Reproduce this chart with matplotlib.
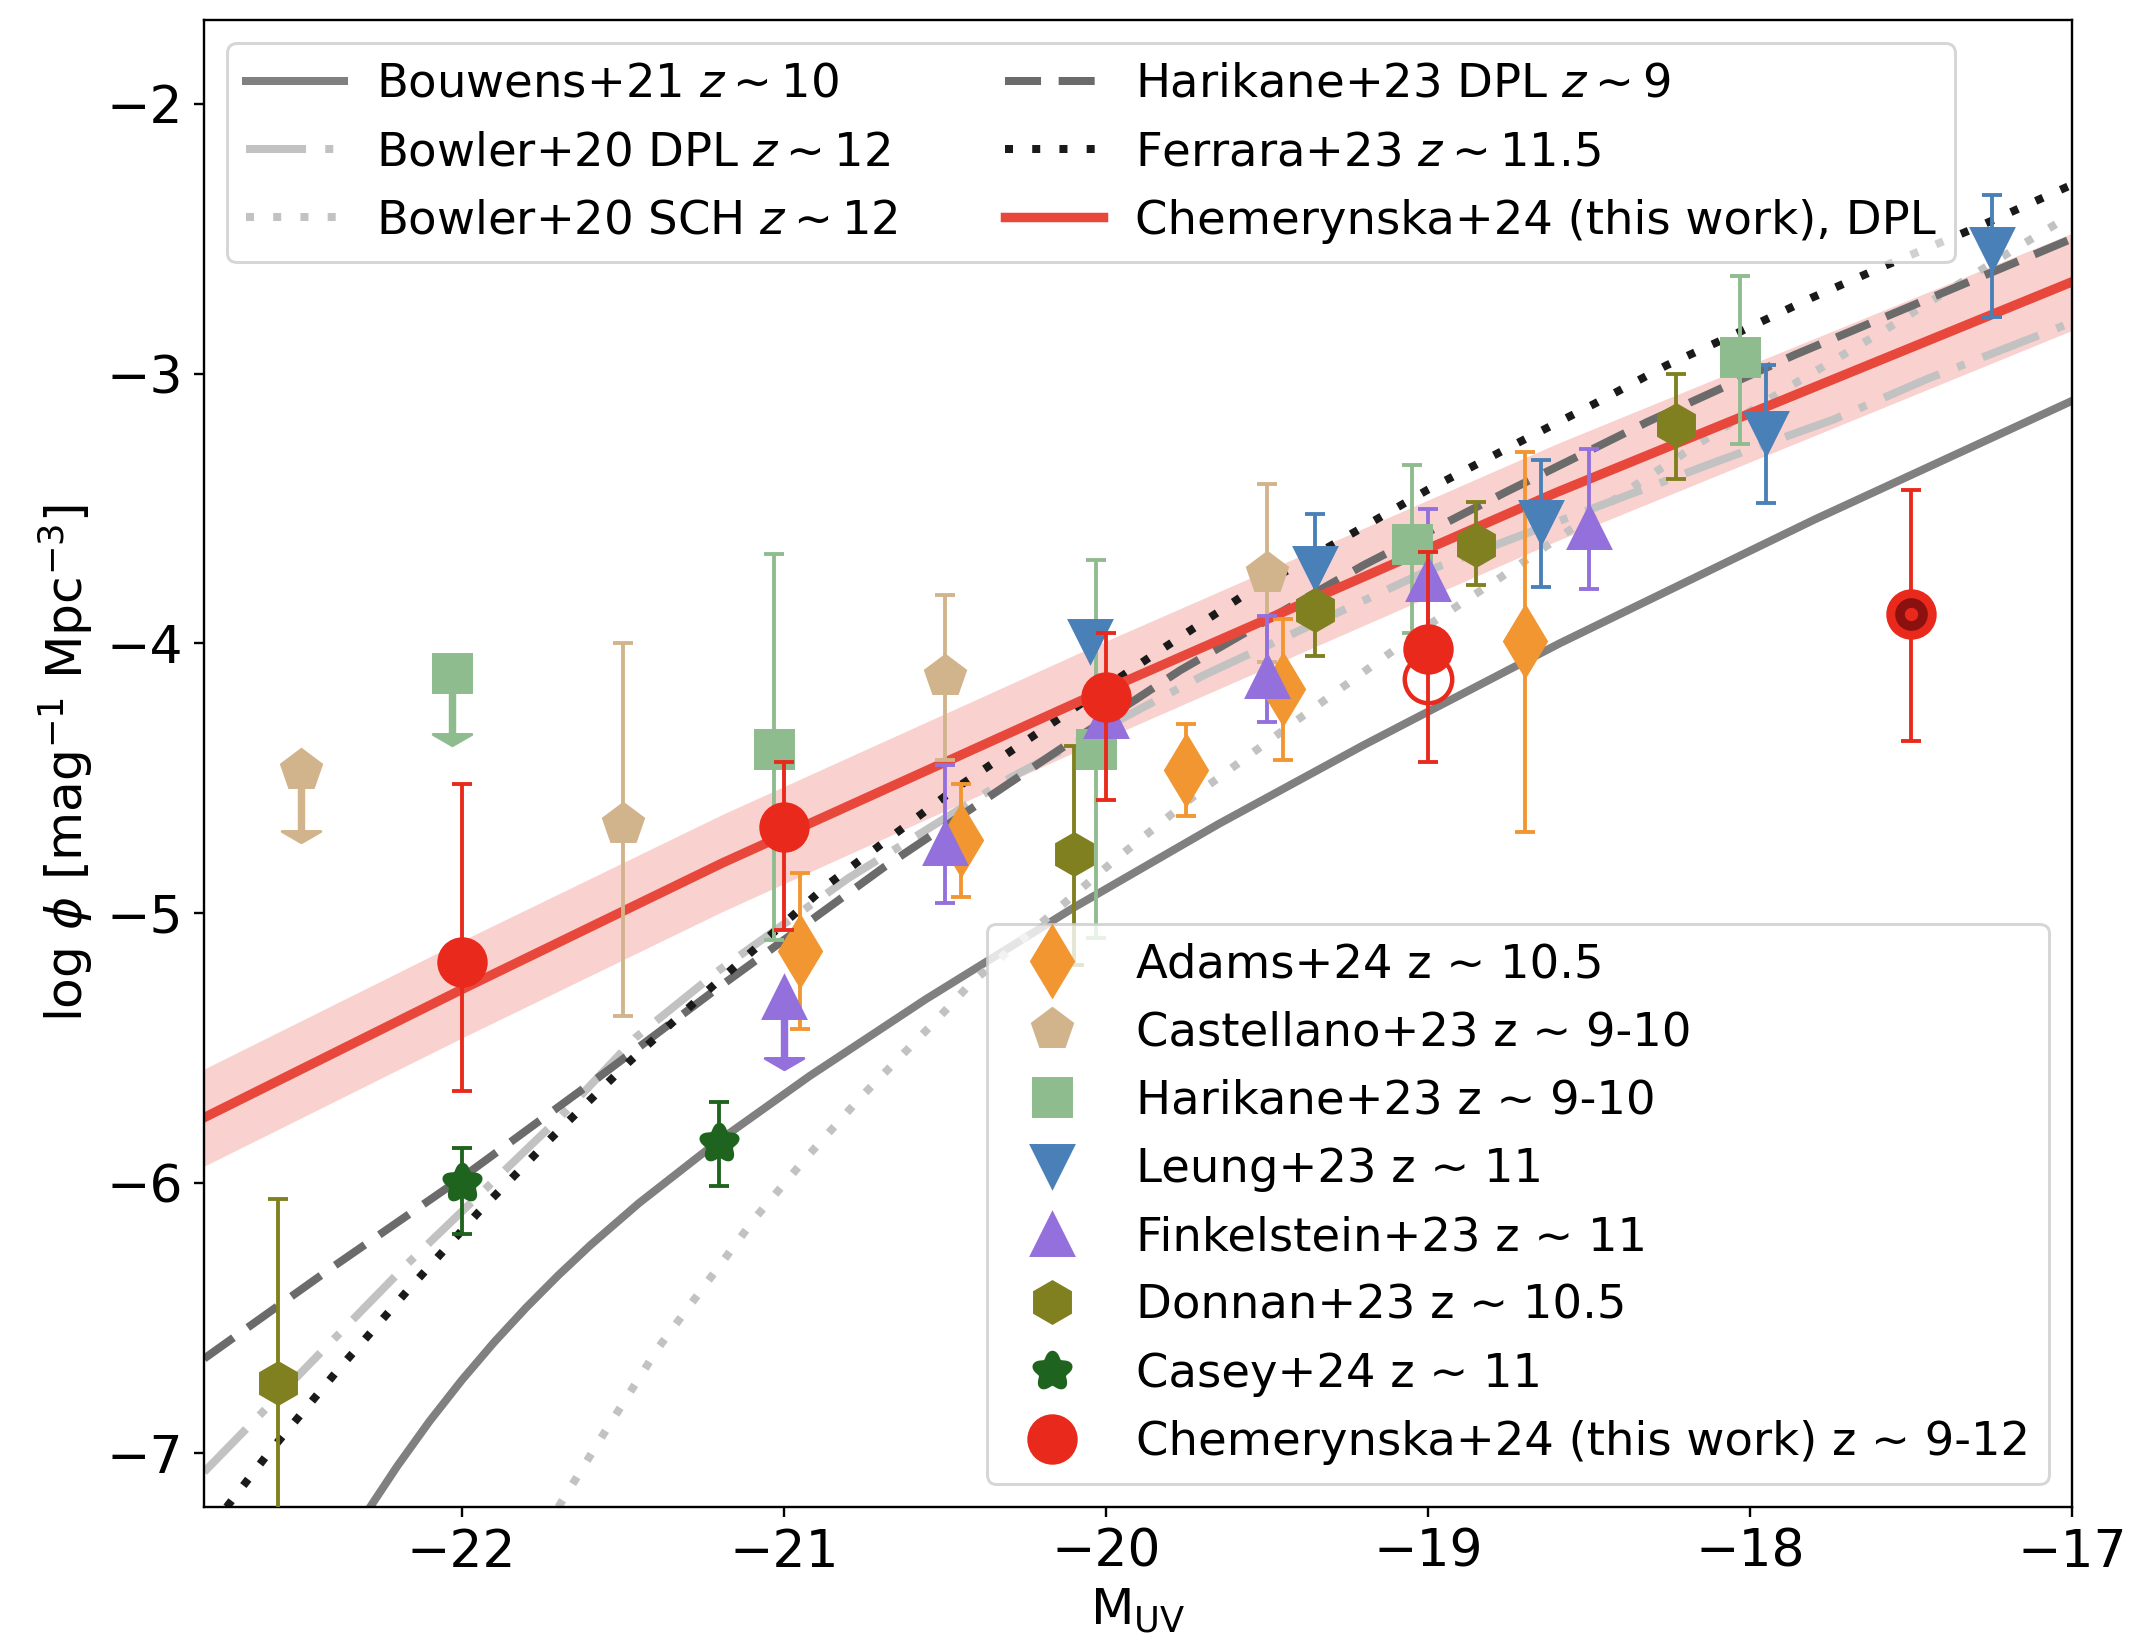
import numpy as np
import matplotlib.pyplot as plt
from matplotlib.lines import Line2D
from matplotlib.path import Path

# --- model curves (M_UV, log phi) ---
bouwens_M = [-22.29, -22.20, -22.10, -22.00, -21.90, -21.80, -21.70, -21.60, -21.45, -21.20, -20.92, -20.56, -20.10, -19.65, -19.20, -18.59, -17.80, -17.00]
bouwens_lp = [-7.21, -7.048, -6.882, -6.730, -6.590, -6.461, -6.341, -6.229, -6.074, -5.841, -5.603, -5.319, -4.979, -4.669, -4.377, -3.999, -3.541, -3.101]

bowdpl_M = [-22.80, -22.17, -21.69, -21.46, -21.20, -20.80, -20.30, -19.70, -19.00, -18.09, -17.74, -17.45, -17.00]
bowdpl_lp = [-7.07, -6.30, -5.75, -5.46, -5.21, -4.87, -4.50, -4.12, -3.73, -3.32, -3.17, -3.02, -2.81]

bowsch_M = [-21.70, -21.56, -21.39, -21.24, -21.09, -20.93, -20.76, -20.53, -20.42, -19.98, -19.71, -19.39, -18.99, -18.78, -18.37, -18.16, -17.88, -17.59, -17.18, -17.00]
bowsch_lp = [-7.20, -6.93, -6.61, -6.37, -6.13, -5.905, -5.68, -5.40, -5.26, -4.81, -4.55, -4.27, -3.925, -3.76, -3.425, -3.26, -3.05, -2.845, -2.54, -2.41]

hari_M = [-22.80, -22.40, -22.00, -21.60, -21.22, -20.69, -20.14, -19.77, -19.48, -19.20, -18.76, -18.32, -17.86, -17.40, -17.00]
hari_lp = [-6.65, -6.31, -5.98, -5.63, -5.29, -4.83, -4.39, -4.10, -3.90, -3.71, -3.44, -3.18, -2.93, -2.70, -2.50]

ferr_M = [-22.73, -22.60, -22.39, -22.17, -21.95, -21.72, -21.48, -21.24, -20.86, -20.47, -19.85, -19.57, -19.29, -19.00, -18.71, -18.48, -18.26, -18.04, -17.81, -17.58, -17.28, -17.00]
ferr_lp = [-7.20, -7.00, -6.70, -6.40, -6.11, -5.83, -5.55, -5.29, -4.89, -4.54, -4.04, -3.82, -3.63, -3.43, -3.25, -3.11, -2.97, -2.85, -2.72, -2.60, -2.45, -2.30]

chemfit_M = [-22.80, -22.00, -21.19, -20.07, -18.60, -17.00]
chemfit_lp = [-5.757, -5.282, -4.813, -4.208, -3.44, -2.66]
chemfit_hw = [0.18, 0.18, 0.18, 0.18, 0.18, 0.18]

# --- data points: M, log phi, lower err, upper err ---
adams_M = [-20.95, -20.45, -19.75, -19.45, -18.70]
adams_lp = [-5.14, -4.73, -4.47, -4.17, -3.99]
adams_lo = [0.29, 0.21, 0.17, 0.26, 0.71]
adams_hi = [0.29, 0.21, 0.17, 0.26, 0.70]

cast_M = [-21.50, -20.50, -19.50]
cast_lp = [-4.67, -4.12, -3.74]
cast_lo = [0.71, 0.31, 0.33]
cast_hi = [0.67, 0.30, 0.33]
cast_ul_M, cast_ul_lp = [-22.50], [-4.47]

harid_M = [-21.03, -20.03, -19.05, -18.03]
harid_lp = [-4.39, -4.39, -3.63, -2.94]
harid_lo = [0.71, 0.70, 0.33, 0.32]
harid_hi = [0.72, 0.70, 0.29, 0.30]
harid_ul_M, harid_ul_lp = [-22.03], [-4.11]

leung_M = [-20.05, -19.35, -18.65, -17.95, -17.25]
leung_lp = [-3.99, -3.72, -3.55, -3.22, -2.54]
leung_lo = [0.0, 0.18, 0.24, 0.26, 0.25]
leung_hi = [0.0, 0.20, 0.23, 0.25, 0.20]

fink_M = [-20.50, -20.00, -19.50, -19.00, -18.50]
fink_lp = [-4.74, -4.27, -4.12, -3.76, -3.57]
fink_lo = [0.22, 0.10, 0.17, 0.24, 0.23]
fink_hi = [0.29, 0.10, 0.22, 0.26, 0.29]
fink_ul_M, fink_ul_lp = [-21.00], [-5.31]

donnan_M = [-22.57, -20.10, -19.35, -18.85, -18.23]
donnan_lp = [-6.74, -4.78, -3.875, -3.635, -3.19]
donnan_lo = [0.68, 0.41, 0.17, 0.15, 0.20]
donnan_hi = [0.68, 0.40, 0.17, 0.16, 0.19]

casey_M = [-22.00, -21.20]
casey_lp = [-6.00, -5.85]
casey_lo = [0.19, 0.16]
casey_hi = [0.13, 0.15]

chem_M = [-22.00, -21.00, -20.00, -19.00, -17.50]
chem_lp = [-5.18, -4.68, -4.20, -4.02, -3.89]
chem_lo = [0.48, 0.38, 0.38, 0.42, 0.47]
chem_hi = [0.66, 0.24, 0.24, 0.36, 0.46]
chem_open_M, chem_open_lp = [-19.00], [-4.13]
chem_ring_M, chem_ring_lp = [-17.50], [-3.89]

ul_len = 0.31     # length of upper-limit arrows (dex)
ul_head = 0.085   # arrow head height (dex)

c_adams = '#F29632'
c_cast = '#D2B48C'
c_hari = '#8FBC8F'
c_leung = '#4A80B8'
c_fink = '#9370DB'
c_donnan = '#808020'
c_casey = '#1E641E'
c_chem = '#E8291C'
c_fit = '#E8483C'

# flower-ish marker for Casey+24
th = np.linspace(0, 2 * np.pi, 200)
rr = 1 + 0.2 * np.cos(5 * th)
flower = Path(np.column_stack([rr * np.sin(th), rr * np.cos(th)]), closed=True)
# flat arrow head (top edge at the anchor point)
head = Path([(-1, 0), (1, 0), (0, -0.58), (-1, 0)], closed=True)

fig = plt.figure(figsize=(2135 / 213.5, 1644 / 213.5), dpi=213.5)
ax = fig.add_axes([0.0956, 0.0833, 0.8749, 0.9045])

fit_lp = np.array(chemfit_lp)
fit_hw = np.array(chemfit_hw)
ax.fill_between(chemfit_M, fit_lp - fit_hw, fit_lp + fit_hw, color=c_fit, alpha=0.25, lw=0, zorder=1)

lw = 2.7
h1, = ax.plot(bouwens_M, bouwens_lp, color='0.5', lw=lw, label=r'Bouwens+21 $z\sim10$', zorder=2)
h2, = ax.plot(bowdpl_M, bowdpl_lp, color='0.76', lw=lw, dashes=(7.5, 2.4, 1, 2.4), label=r'Bowler+20 DPL $z\sim12$', zorder=2)
h3, = ax.plot(bowsch_M, bowsch_lp, color='0.76', lw=lw, dashes=(1, 2.4), label=r'Bowler+20 SCH $z\sim12$', zorder=2)
h4, = ax.plot(hari_M, hari_lp, color='0.42', lw=lw, dashes=(4.5, 2.2), label=r'Harikane+23 DPL $z\sim9$', zorder=2)
h5, = ax.plot(ferr_M, ferr_lp, color='0.1', lw=lw, dashes=(1, 2.4), label=r'Ferrara+23 $z\sim11.5$', zorder=2)
h6, = ax.plot(chemfit_M, chemfit_lp, color=c_fit, lw=3.2, label='Chemerynska+24 (this work), DPL', zorder=2)


def points(M, lp, lo, hi, color, marker, ms, z=4):
    ax.errorbar(M, lp, yerr=[lo, hi], fmt='none', ecolor=color, elinewidth=1.3,
                capsize=3.5, capthick=1.3, zorder=z)
    ax.plot(M, lp, ls='none', marker=marker, color=color, mec=color, ms=ms, zorder=z + 0.5)


def uplims(M, lp, color, marker, ms, z=4):
    for m, y in zip(M, lp):
        ax.plot([m, m], [y, y - ul_len + ul_head], color=color, lw=2.5, zorder=z)
        ax.plot([m], [y - ul_len + ul_head], ls='none', marker=head, color=color, ms=13, zorder=z)
        ax.plot([m], [y], ls='none', marker=marker, color=color, ms=ms, zorder=z + 0.5)


ms_d, ms_p, ms_s, ms_t, ms_h, ms_f, ms_o = 16.5, 14, 12.5, 14, 14, 13, 16

points(adams_M, adams_lp, adams_lo, adams_hi, c_adams, 'd', ms_d)
points(cast_M, cast_lp, cast_lo, cast_hi, c_cast, 'p', ms_p)
uplims(cast_ul_M, cast_ul_lp, c_cast, 'p', ms_p)
points(harid_M, harid_lp, harid_lo, harid_hi, c_hari, 's', ms_s)
uplims(harid_ul_M, harid_ul_lp, c_hari, 's', ms_s)
points(leung_M, leung_lp, leung_lo, leung_hi, c_leung, 'v', ms_t)
points(fink_M, fink_lp, fink_lo, fink_hi, c_fink, '^', ms_t)
uplims(fink_ul_M, fink_ul_lp, c_fink, '^', ms_t)
points(donnan_M, donnan_lp, donnan_lo, donnan_hi, c_donnan, 'h', ms_h)
points(casey_M, casey_lp, casey_lo, casey_hi, c_casey, flower, ms_f)
points(chem_M, chem_lp, chem_lo, chem_hi, c_chem, 'o', ms_o, z=5)
ax.plot(chem_open_M, chem_open_lp, ls='none', marker='o', mfc='none', mec=c_chem, mew=1.5, ms=ms_o, zorder=5)
ax.plot(chem_ring_M, chem_ring_lp, ls='none', marker='o', color='#8B1010', ms=10, zorder=6)
ax.plot(chem_ring_M, chem_ring_lp, ls='none', marker='o', color=c_chem, ms=3.5, zorder=6.5)

ax.set_xlim(-22.8, -17.0)
ax.set_ylim(-7.2, -1.69)
ax.set_xticks([-22, -21, -20, -19, -18, -17])
ax.set_yticks([-7, -6, -5, -4, -3, -2])
ax.tick_params(labelsize=17.5)
ax.set_xlabel(r'M$_{\rm UV}$', fontsize=17, labelpad=3)
ax.set_ylabel(r'log $\phi$ [mag$^{-1}$ Mpc$^{-3}$]', fontsize=17)

leg1 = ax.legend(handles=[h1, h2, h3, h4, h5, h6], loc='upper left', ncol=2, fontsize=15.7,
                 handlelength=2.1, handletextpad=0.7, columnspacing=2.3)
ax.add_artist(leg1)

obs_handles = [
    Line2D([], [], ls='none', marker='d', color=c_adams, ms=ms_d, label='Adams+24 z ~ 10.5'),
    Line2D([], [], ls='none', marker='p', color=c_cast, ms=ms_p, label='Castellano+23 z ~ 9-10'),
    Line2D([], [], ls='none', marker='s', color=c_hari, ms=ms_s, label='Harikane+23 z ~ 9-10'),
    Line2D([], [], ls='none', marker='v', color=c_leung, ms=ms_t, label='Leung+23 z ~ 11'),
    Line2D([], [], ls='none', marker='^', color=c_fink, ms=ms_t, label='Finkelstein+23 z ~ 11'),
    Line2D([], [], ls='none', marker='h', color=c_donnan, ms=ms_h, label='Donnan+23 z ~ 10.5'),
    Line2D([], [], ls='none', marker=flower, color=c_casey, ms=ms_f, label='Casey+24 z ~ 11'),
    Line2D([], [], ls='none', marker='o', color=c_chem, ms=ms_o, label='Chemerynska+24 (this work) z ~ 9-12'),
]
ax.legend(handles=obs_handles, loc='lower right', fontsize=15.7)

fig.savefig('out.png', dpi=213.5)
